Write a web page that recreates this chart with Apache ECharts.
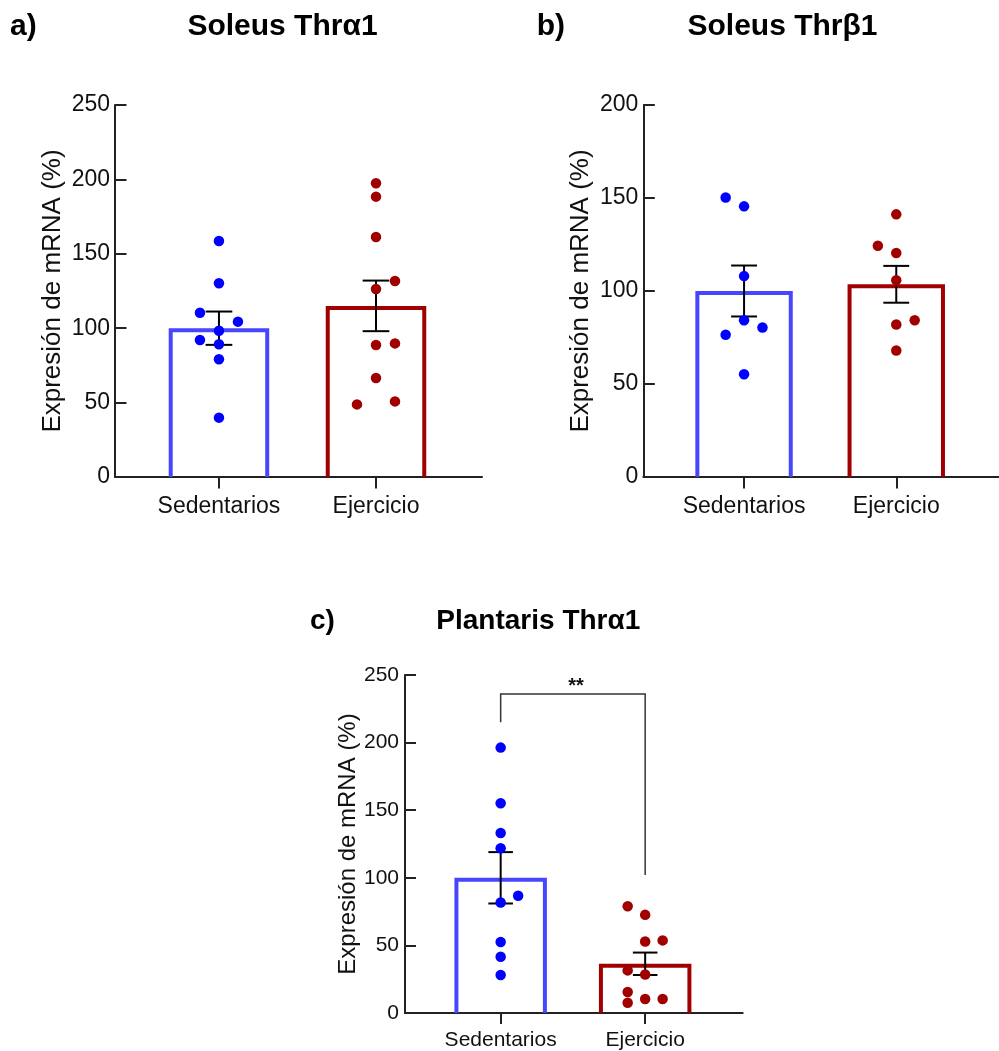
<!DOCTYPE html>
<html>
<head>
<meta charset="utf-8">
<script src="https://cdn.jsdelivr.net/npm/echarts@6/dist/echarts.min.js"></script>
<style>
html,body{margin:0;padding:0;background:#fff;}
#chart{width:999px;height:1051px;}
</style>
</head>
<body>
<div id="chart"></div>
<script>
// ---------- data ----------
const categories = ['Sedentarios', 'Ejercicio'];
const panelLetters = ['a)', 'b)', 'c)'];
const panelTitles = ['Soleus Thrα1', 'Soleus Thrβ1', 'Plantaris Thrα1'];
const yAxisName = 'Expresión de mRNA (%)';
const yMax = [250, 200, 250];
const yStep = [50, 50, 50];

// panel a: Soleus Thrα1
const aSedValues = [158.6, 130.2, 110.4, 104.4, 98.3, 92.1, 89.2, 79.1, 39.9];
const aSedSlots  = [0, 0, -1, 1, 0, -1, 0, 0, 0];
const aEjeValues = [197.4, 188.4, 161.3, 131.7, 126.3, 89.8, 88.7, 66.5, 50.8, 48.8];
const aEjeSlots  = [0, 0, 0, 1, 0, 1, 0, 0, 1, -1];
const aMeans = [100, 115];
const aSem = [11.2, 17.0];

// panel b: Soleus Thrβ1
const bSedValues = [150.3, 145.5, 108.0, 84.3, 80.4, 76.5, 55.2];
const bSedSlots  = [-1, 0, 0, 0, 1, -1, 0];
const bEjeValues = [141.2, 124.3, 120.4, 105.8, 84.3, 82.0, 68.0];
const bEjeSlots  = [0, -1, 0, 0, 1, 0, 0];
const bMeans = [100, 103.6];
const bSem = [13.7, 9.9];

// panel c: Plantaris Thrα1
const cSedValues = [196.3, 155.2, 133.2, 121.9, 86.7, 81.7, 52.5, 41.6, 28.1];
const cSedSlots  = [0, 0, 0, 0, 1, 0, 0, 0, 0];
const cEjeValues = [79.0, 72.6, 53.7, 52.9, 31.5, 28.5, 15.5, 10.3, 10.3, 7.6];
const cEjeSlots  = [-1, 0, 1, 0, -1, 0, -1, 0, 1, -1];
const cMeans = [100, 36.4];
const cSem = [19.0, 8.3];
// significance bracket: [xLeft, xRight, top, leftEnd, rightEnd]
const cBracket = [1, 2, 236, 215, 102];
const cSignif = '**';

// ---------- styling / layout ----------
const FONT = "'Liberation Sans', Arial, Helvetica, sans-serif";
const BLUE_DOT = '#0000ff', BLUE_BAR = '#4646ff';
const RED_DOT = '#a00000', RED_BAR = '#a00000';
const AXIS = '#222';
const STEP = 0.121, HALF = 0.32, CAP = 0.085;
const X_MIN = 0.338, X_MAX = 2.675;

const panels = [
  {sed: aSedValues, sedS: aSedSlots, eje: aEjeValues, ejeS: aEjeSlots, means: aMeans, sem: aSem},
  {sed: bSedValues, sedS: bSedSlots, eje: bEjeValues, ejeS: bEjeSlots, means: bMeans, sem: bSem},
  {sed: cSedValues, sedS: cSedSlots, eje: cEjeValues, ejeS: cEjeSlots, means: cMeans, sem: cSem}
];
const grids = [
  {left: 115, top: 105, width: 367, height: 372},
  {left: 643.3, top: 105, width: 367, height: 372},
  {left: 405, top: 675, width: 337.7, height: 338.3}
];
const tickFont = [23, 23, 21];
const nameFont = [26, 26, 24];
const nameGap = [49, 49, 45];
const xLabMargin = [18, 18, 17];
const yLabMargin = [5, 5, 6];
const tickLen = [11.5, 11.5, 11];
const titleFont = [30, 30, 28];
const letterPos = [[10, 27], [536.7, 27], [310, 621]];
const titlePos = [[282.5, 27], [782.5, 27], [538.3, 621]];

const barColors = [BLUE_BAR, RED_BAR];

const option = {
  animation: false,
  backgroundColor: '#fff',
  grid: grids.map(g => Object.assign({containLabel: false}, g)),
  xAxis: grids.map((g, i) => ({
    type: 'value', gridIndex: i, min: X_MIN, max: X_MAX,
    splitLine: {show: false},
    axisLine: {show: true, onZero: false, lineStyle: {color: AXIS, width: 2}},
    axisTick: {show: true, inside: false, length: tickLen[i], customValues: [1, 2], lineStyle: {color: AXIS, width: 2}},
    axisLabel: {show: true, customValues: [1, 2], margin: xLabMargin[i],
      formatter: v => categories[Math.round(v) - 1] || '',
      fontSize: tickFont[i], color: '#111', fontFamily: FONT}
  })),
  yAxis: grids.map((g, i) => ({
    type: 'value', gridIndex: i, min: 0, max: yMax[i], interval: yStep[i],
    splitLine: {show: false},
    axisLine: {show: true, onZero: false, lineStyle: {color: AXIS, width: 2}},
    axisTick: {show: true, inside: true, length: tickLen[i], lineStyle: {color: AXIS, width: 2}},
    axisLabel: {margin: yLabMargin[i], fontSize: tickFont[i], color: '#111', fontFamily: FONT},
    name: yAxisName, nameLocation: 'middle', nameGap: nameGap[i],
    nameTextStyle: {fontSize: nameFont[i], color: '#111', fontFamily: FONT}
  })),
  graphic: {elements: [].concat(
    panelLetters.map((t, i) => ({type: 'text', x: letterPos[i][0], y: letterPos[i][1],
      style: {text: t, font: 'bold ' + titleFont[i] + 'px ' + FONT, fill: '#000',
        textAlign: 'left', textVerticalAlign: 'middle', align: 'left', verticalAlign: 'middle'}})),
    panelTitles.map((t, i) => ({type: 'text', x: titlePos[i][0], y: titlePos[i][1],
      style: {text: t, font: 'bold ' + titleFont[i] + 'px ' + FONT, fill: '#000',
        textAlign: 'center', textVerticalAlign: 'middle', align: 'center', verticalAlign: 'middle'}}))
  )},
  series: []
};

panels.forEach((p, i) => {
  // hollow bars
  option.series.push({
    type: 'custom', xAxisIndex: i, yAxisIndex: i,
    data: p.means.map((m, k) => [k + 1, m]),
    encode: {x: 0, y: 1},
    renderItem: function (params, api) {
      const x = api.value(0), v = api.value(1);
      const lt = api.coord([x - HALF, v]);
      const rb = api.coord([x + HALF, 0]);
      const bw = 4;
      const l = lt[0] + bw / 2, r = rb[0] - bw / 2, t = lt[1] + bw / 2, b = rb[1];
      return {type: 'polyline', shape: {points: [[l, b], [l, t], [r, t], [r, b]]},
        style: {stroke: barColors[params.dataIndex], lineWidth: bw, fill: null, lineJoin: 'miter'}};
    }
  });
  // error bars
  option.series.push({
    type: 'custom', xAxisIndex: i, yAxisIndex: i,
    data: p.means.map((m, k) => [k + 1, m, p.sem[k]]),
    encode: {x: 0, y: 1},
    renderItem: function (params, api) {
      const x = api.value(0), m = api.value(1), s = api.value(2);
      const top = api.coord([x, m + s]), bot = api.coord([x, m - s]);
      const cl = api.coord([x - CAP, m])[0], cr = api.coord([x + CAP, m])[0];
      const st = {stroke: '#000', lineWidth: 2};
      return {type: 'group', children: [
        {type: 'line', shape: {x1: top[0], y1: top[1], x2: bot[0], y2: bot[1]}, style: st},
        {type: 'line', shape: {x1: cl, y1: top[1], x2: cr, y2: top[1]}, style: st},
        {type: 'line', shape: {x1: cl, y1: bot[1], x2: cr, y2: bot[1]}, style: st}
      ]};
    }
  });
  // dots
  option.series.push({
    type: 'scatter', xAxisIndex: i, yAxisIndex: i, symbol: 'circle', symbolSize: 10.5,
    itemStyle: {color: BLUE_DOT, opacity: 1},
    data: p.sed.map((v, k) => [1 + p.sedS[k] * STEP, v])
  });
  option.series.push({
    type: 'scatter', xAxisIndex: i, yAxisIndex: i, symbol: 'circle', symbolSize: 10.5,
    itemStyle: {color: RED_DOT, opacity: 1},
    data: p.eje.map((v, k) => [2 + p.ejeS[k] * STEP, v])
  });
});

// significance bracket in panel c
option.series.push({
  type: 'custom', xAxisIndex: 2, yAxisIndex: 2,
  data: [cBracket],
  encode: {x: [0, 1], y: 2},
  renderItem: function (params, api) {
    const x1 = api.value(0), x2 = api.value(1), top = api.value(2), le = api.value(3), re = api.value(4);
    const a = api.coord([x1, le]), b = api.coord([x1, top]), c = api.coord([x2, top]), d = api.coord([x2, re]);
    const mid = api.coord([(x1 + x2) / 2, top]);
    return {type: 'group', children: [
      {type: 'polyline', shape: {points: [a, b, c, d]}, style: {stroke: '#333', lineWidth: 1.5, fill: null}},
      {type: 'text', x: mid[0] + 3, y: mid[1] + 3,
        style: {text: cSignif, font: 'bold 20px ' + FONT, fill: '#111',
          textAlign: 'center', textVerticalAlign: 'bottom', align: 'center', verticalAlign: 'bottom'}}
    ]};
  }
});

const chart = echarts.init(document.getElementById('chart'), null, {renderer: 'canvas'});
chart.setOption(option);
</script>
</body>
</html>
